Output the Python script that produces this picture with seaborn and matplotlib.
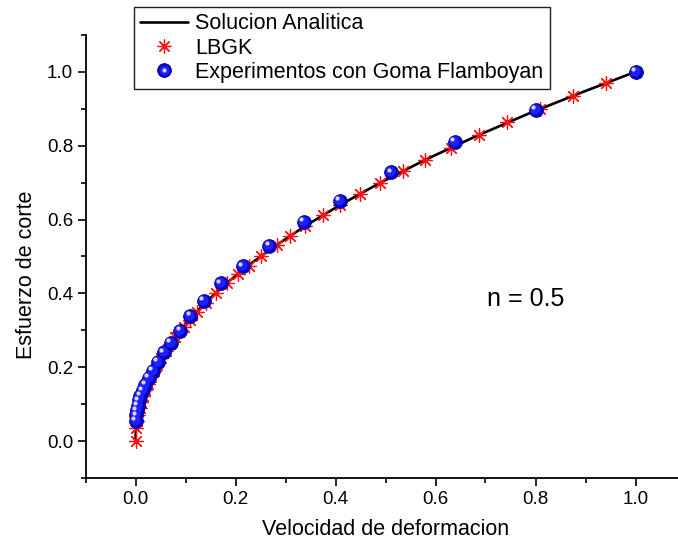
import matplotlib
matplotlib.use("Agg")
import matplotlib.pyplot as plt
from matplotlib.ticker import MultipleLocator, FormatStrFormatter
from matplotlib.transforms import offset_copy
from matplotlib.lines import Line2D
import seaborn as sns
import pandas as pd

# Analytic power-law solution (n = 0.5), normalised shear stress vs shear rate
analytic_x = [0.0, 0.0003, 0.001, 0.002, 0.004, 0.007, 0.011, 0.016, 0.023, 0.031,
              0.040, 0.052, 0.066, 0.082, 0.100, 0.125, 0.155, 0.19, 0.23, 0.28,
              0.34, 0.41, 0.49, 0.58, 0.68, 0.79, 0.89, 1.0]
analytic_y = [0.0, 0.017, 0.032, 0.045, 0.063, 0.084, 0.105, 0.126, 0.152, 0.176,
              0.200, 0.228, 0.257, 0.286, 0.316, 0.354, 0.394, 0.436, 0.480, 0.529,
              0.583, 0.640, 0.700, 0.762, 0.825, 0.889, 0.943, 1.0]

# LBGK lattice Boltzmann results
lbgk_x = [0.0, 0.0012, 0.003, 0.005, 0.008, 0.011, 0.015, 0.019, 0.024, 0.030,
          0.036, 0.043, 0.051, 0.060, 0.069, 0.079, 0.087, 0.096, 0.108, 0.122,
          0.140, 0.160, 0.182, 0.204, 0.226, 0.251, 0.282, 0.308, 0.339, 0.374,
          0.409, 0.448, 0.489, 0.534, 0.580, 0.632, 0.687, 0.744, 0.809, 0.874,
          0.941, 1.0]
lbgk_y = [0.0, 0.035, 0.055, 0.071, 0.089, 0.105, 0.122, 0.138, 0.155, 0.173,
          0.190, 0.207, 0.226, 0.245, 0.263, 0.281, 0.295, 0.310, 0.329, 0.349,
          0.374, 0.400, 0.427, 0.452, 0.475, 0.501, 0.531, 0.555, 0.582, 0.611,
          0.640, 0.669, 0.699, 0.731, 0.762, 0.795, 0.829, 0.863, 0.899, 0.935,
          0.970, 1.0]

# Experimental data, Goma Flamboyan
exp_x = [0.0005, 0.001, 0.002, 0.004, 0.006, 0.009, 0.014, 0.019, 0.026, 0.034,
         0.044, 0.056, 0.070, 0.089, 0.109, 0.136, 0.170, 0.214, 0.267, 0.336,
         0.408, 0.511, 0.639, 0.800, 1.0]
exp_y = [0.055, 0.070, 0.083, 0.096, 0.110, 0.123, 0.138, 0.153, 0.171, 0.191,
         0.215, 0.241, 0.266, 0.299, 0.339, 0.380, 0.427, 0.474, 0.529, 0.594,
         0.651, 0.728, 0.811, 0.897, 1.0]

labels = ["Solucion Analitica", "LBGK", "Experimentos con Goma Flamboyan"]
x_label = "Velocidad de deformacion"
y_label = "Esfuerzo de corte"
annotation = "n = 0.5"

analytic = pd.DataFrame({"x": analytic_x, "y": analytic_y})
lbgk = pd.DataFrame({"x": lbgk_x, "y": lbgk_y})
exper = pd.DataFrame({"x": exp_x, "y": exp_y})

sns.set_style("ticks")
plt.rcParams["font.family"] = ["Liberation Sans", "DejaVu Sans"]
plt.rcParams["text.color"] = "black"
plt.rcParams["axes.labelcolor"] = "black"

W, H = 678, 548
fig = plt.figure(figsize=(W / 100, H / 100), dpi=100)
ax = fig.add_axes([85.5 / W, (H - 478) / H, 600 / W, (478 - 34.9) / H])

star = (8, 2, 0)
sns.lineplot(data=analytic, x="x", y="y", ax=ax, color="black", lw=1.9,
             estimator=None, sort=False, zorder=2)
sns.scatterplot(data=lbgk, x="x", y="y", ax=ax, marker=star, s=100,
                color="#ff1010", edgecolor="#ff1010", linewidth=0.9, zorder=3)

# shaded spheres: base disc, brighter body shifted up-left, small highlight
sns.scatterplot(data=exper, x="x", y="y", ax=ax, s=100, color="#0000c8",
                edgecolor="#00008a", linewidth=0.5, zorder=4)
sns.scatterplot(data=exper, x="x", y="y", ax=ax, s=55, color="#1e1eff",
                linewidth=0, zorder=5,
                transform=offset_copy(ax.transData, fig=fig, x=-1.0, y=1.0, units="dots"))
sns.scatterplot(data=exper, x="x", y="y", ax=ax, s=9, color="#d8d8ff",
                linewidth=0, zorder=6,
                transform=offset_copy(ax.transData, fig=fig, x=-2.5, y=2.5, units="dots"))

ax.set_xlim(-0.1, 1.1)
ax.set_ylim(-0.1, 1.1)
ax.xaxis.set_major_locator(MultipleLocator(0.2))
ax.xaxis.set_minor_locator(MultipleLocator(0.1))
ax.yaxis.set_major_locator(MultipleLocator(0.2))
ax.yaxis.set_minor_locator(MultipleLocator(0.1))
ax.xaxis.set_major_formatter(FormatStrFormatter("%.1f"))
ax.yaxis.set_major_formatter(FormatStrFormatter("%.1f"))

for side in ("top", "right"):
    ax.spines[side].set_visible(False)
for side in ("left", "bottom"):
    ax.spines[side].set_linewidth(1.3)
    ax.spines[side].set_color("black")

ax.tick_params(which="major", direction="out", length=6, width=1.2,
               labelsize=13.5, colors="black", pad=3)
ax.tick_params(which="minor", direction="out", length=3.8, width=1.2,
               colors="black")

ax.set_xlabel(x_label, fontsize=15.5, labelpad=8, color="black")
ax.set_ylabel(y_label, fontsize=15.5, color="black")
ax.yaxis.set_label_coords(-0.08, 0.458)

ax.text(0.781, 0.384, annotation, fontsize=18, ha="center", va="center",
        color="black")

h_line = Line2D([], [], color="black", lw=1.9)
h_star = Line2D([], [], ls="none", marker=star, ms=10, color="#ff1010",
                mec="#ff1010", mew=0.9)
h_base = Line2D([], [], ls="none", marker="o", ms=10, color="#0000c8",
                mec="#00008a", mew=0.5)
h_body = Line2D([], [], ls="none", marker="o", ms=7.4, color="#1e1eff", mew=0)
h_hi = Line2D([], [], ls="none", marker="o", ms=3, color="#d8d8ff", mew=0)
leg = ax.legend([h_line, h_star, (h_base, h_body, h_hi)], labels,
                loc="upper left", bbox_to_anchor=(134 / W, 1 - 7 / H),
                bbox_transform=fig.transFigure, borderaxespad=0,
                fontsize=15.5, frameon=True, fancybox=False, framealpha=1,
                edgecolor="#222222", handlelength=2.2, handletextpad=0.35,
                borderpad=0.3, labelspacing=0.15)
leg.get_frame().set_linewidth(1.0)
for t in leg.get_texts():
    t.set_color("black")

fig.savefig("out.png", dpi=100)
